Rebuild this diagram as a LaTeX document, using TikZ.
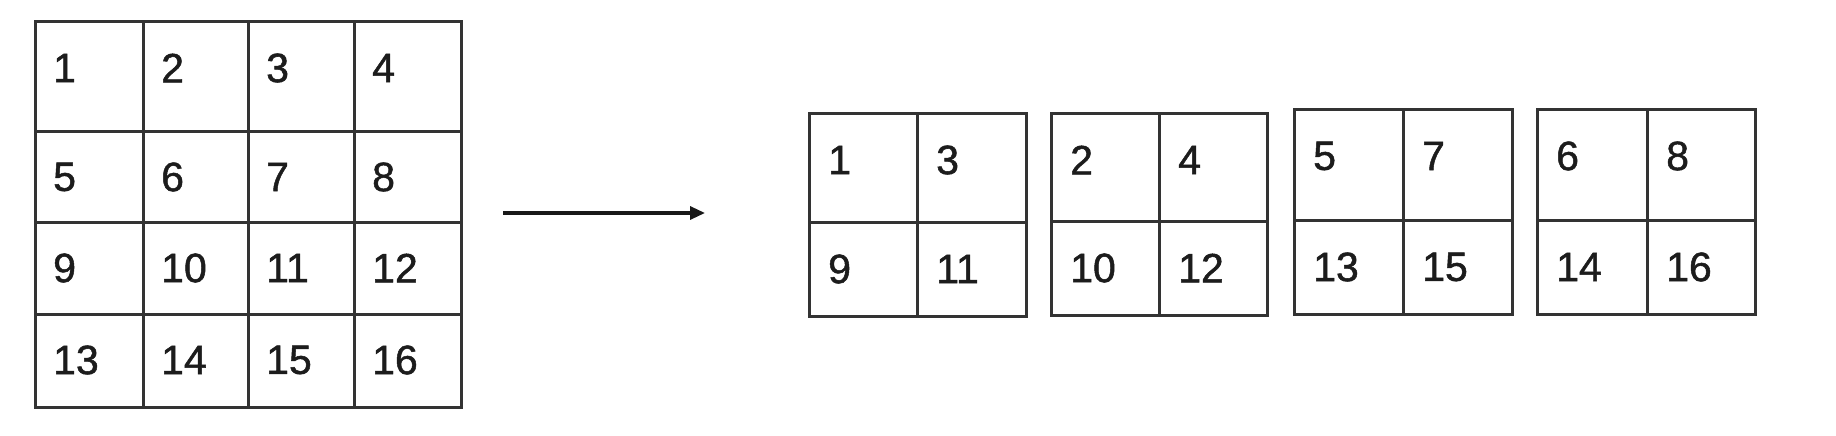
\documentclass[tikz,border=0pt]{standalone}
\usepackage{fontspec}
\setmainfont{Liberation Sans}[FakeBold=1.2]
\usetikzlibrary{arrows.meta}
\definecolor{linec}{HTML}{333333}
\definecolor{textc}{HTML}{1C1C1C}
\tikzset{
  cell/.style={draw=linec, line width=3pt, inner sep=0pt, outer sep=0pt, anchor=north west},
  num/.style={text=textc, font=\fontsize{41}{48}\selectfont, inner sep=0pt, anchor=west},
  flow/.style={draw=black!90, line width=3.2pt, -{Triangle[length=15pt,width=13pt]}}
}
\begin{document}
\begin{tikzpicture}[x=1pt,y=-1pt]
\fill[white] (0,0) rectangle (1836,436);
\useasboundingbox (0,0) rectangle (1836,436);
% big 4x4 grid
\foreach \r in {0,1,2,3}{
  \foreach \c in {0,1,2,3}{
    \pgfmathsetmacro\xa{{35,143,248,354,461}[\c]}
    \pgfmathsetmacro\xb{{35,143,248,354,461}[\c+1]}
    \pgfmathsetmacro\ya{{22,131,222,314,407}[\r]}
    \pgfmathsetmacro\yb{{22,131,222,314,407}[\r+1]}
    \pgfmathsetlengthmacro\w{(\xb-\xa)*1pt}
    \pgfmathsetlengthmacro\h{(\yb-\ya)*1pt}
    \pgfmathtruncatemacro\n{4*\r+\c+1}
    \node[cell, minimum width=\w, minimum height=\h] (g\n) at (\xa,\ya) {};
    \node[num] (tg\n) at (\xa+18,\ya+46) {\n};
  }
}
% arrow
\coordinate (arrS) at (503,213);
\coordinate (arrE) at (705,213);
\draw[flow] (arrS) -- (arrE);
% four 2x2 boxes
\foreach \k in {0,1,2,3}{
  \foreach \r in {0,1}{
    \foreach \c in {0,1}{
      \pgfmathsetmacro\xa{{{809,1051,1294,1537},{917,1159,1403,1647}}[\c][\k]}
      \pgfmathsetmacro\xb{{{917,1159,1403,1647},{1026,1267,1512,1755}}[\c][\k]}
      \pgfmathsetmacro\ya{{{113,113,109,109},{222,221,220,220}}[\r][\k]}
      \pgfmathsetmacro\yb{{{222,221,220,220},{316,315,314,314}}[\r][\k]}
      \pgfmathsetlengthmacro\w{(\xb-\xa)*1pt}
      \pgfmathsetlengthmacro\h{(\yb-\ya)*1pt}
      \pgfmathtruncatemacro\lab{{1,2,5,6}[\k]+2*\c+8*\r}
      \node[cell, minimum width=\w, minimum height=\h] (b\k\r\c) at (\xa,\ya) {};
      \node[num] (tb\k\r\c) at (\xa+19,\ya+47) {\lab};
    }
  }
}
\end{tikzpicture}
\end{document}
